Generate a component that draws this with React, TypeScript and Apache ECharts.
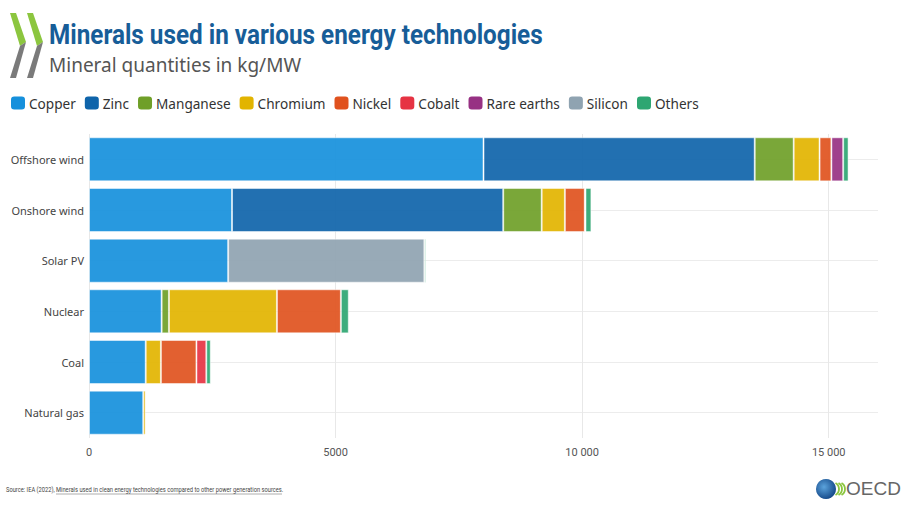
import React, { useEffect, useRef } from "react";
import * as echarts from "echarts";

const categories = ["Offshore wind", "Onshore wind", "Solar PV", "Nuclear", "Coal", "Natural gas"];
const seriesNames = ["Copper", "Zinc", "Manganese", "Chromium", "Nickel", "Cobalt", "Rare earths", "Silicon", "Others"];
const copper = [8000, 2900, 2822, 1473, 1150, 1100];
const zinc = [5500, 5500, 0, 0, 0, 0];
const manganese = [790, 780, 0, 148, 0, 0];
const chromium = [525, 470, 0, 2190, 308, 48];
const nickel = [240, 404, 0, 1297, 721, 0];
const cobalt = [0, 0, 0, 0, 200, 0];
const rareEarths = [239, 14, 0, 0, 0, 0];
const silicon = [0, 0, 3979, 0, 0, 0];
const others = [109, 120, 30, 160, 90, 0];
const xTicks = [0, 5000, 10000, 15000];
const xMax = 16000;

const seriesValues = [copper, zinc, manganese, chromium, nickel, cobalt, rareEarths, silicon, others];
const colors = ["#1690dc", "#0f64aa", "#6f9f28", "#e2b400", "#e0521e", "#e63343", "#973183", "#8fa3b1", "#2ea672"];

export default function App() {
  const ref = useRef<HTMLDivElement>(null);
  useEffect(() => {
    if (!ref.current) return;
    const chart = echarts.init(ref.current, undefined, { renderer: "svg" });
    const fmt = (v: number) => (v >= 10000 ? String(v).replace(/(\d+)(\d{3})$/, "$1 $2") : String(v));
    chart.setOption({
      animation: false,
      color: colors,
      grid: { left: 89, right: 29, top: 134, bottom: 73, containLabel: false },
      legend: {
        left: 11,
        top: 96,
        padding: 0,
        icon: "roundRect",
        itemWidth: 14,
        itemHeight: 13,
        itemGap: 9,
        itemStyle: { opacity: 1, borderWidth: 0 },
        textStyle: { fontSize: 13.6, color: "#333", fontFamily: "Noto Sans", padding: [0, 0, 0, -1] },
        data: seriesNames,
        selectedMode: false,
      },
      xAxis: {
        type: "value",
        min: 0,
        max: xMax,
        interval: xTicks[1] - xTicks[0],
        axisLine: { show: false },
        axisTick: { show: false },
        axisLabel: {
          showMaxLabel: false,
          formatter: fmt,
          fontSize: 11,
          color: "#555",
          fontFamily: "Roboto",
          margin: 9,
        },
        splitLine: { show: true, showMaxLine: false, lineStyle: { color: "#e8e8e8", width: 1 } },
      },
      yAxis: {
        type: "category",
        inverse: true,
        data: categories,
        axisLine: { show: false },
        axisTick: { show: false },
        axisLabel: { fontSize: 11, color: "#444", fontFamily: "Noto Sans", margin: 5 },
        splitLine: { show: true, alignWithLabel: true, lineStyle: { color: "#ececec", width: 1 } },
      },
      series: seriesNames.map((name, i) => ({
        name,
        type: "bar",
        stack: "total",
        barCategoryGap: "13%",
        data: seriesValues[i].map((v) => (v === 0 ? null : v)),
        itemStyle: { opacity: 0.92, borderColor: "rgba(255,255,255,0.55)", borderWidth: 1 },
        emphasis: { disabled: true },
      })),
      graphic: [
        // OECD chevrons (top-left)
        { type: "polygon", shape: { points: [[10, 13], [16, 13], [26, 42], [20, 46]] }, style: { fill: "#8cc63f" } },
        { type: "polygon", shape: { points: [[20, 46], [26, 42], [16, 78], [10, 78]] }, style: { fill: "#7a7a7a" } },
        { type: "polygon", shape: { points: [[27, 13], [33, 13], [43, 42], [37, 46]] }, style: { fill: "#8cc63f" } },
        { type: "polygon", shape: { points: [[37, 46], [43, 42], [33, 78], [27, 78]] }, style: { fill: "#7a7a7a" } },
        {
          type: "text",
          x: 49,
          y: 21,
          scaleX: 0.9,
          style: {
            text: "Minerals used in various energy technologies",
            fontSize: 27,
            fontWeight: "bold",
            fontFamily: "Roboto",
            fill: "#175d98",
          },
        },
        {
          type: "text",
          x: 49,
          y: 55,
          style: { text: "Mineral quantities in kg/MW", fontSize: 19, fontFamily: "Noto Sans", fill: "#555" },
        },
        {
          type: "text",
          x: 6,
          y: 486,
          scaleX: 0.767,
          style: {
            text: "Source: IEA (2022), Minerals used in clean energy technologies compared to other power generation sources.",
            fontSize: 7.5,
            fontFamily: "Roboto",
            fill: "#444",
          },
        },
        { type: "line", shape: { x1: 56, y1: 494, x2: 282, y2: 494 }, style: { stroke: "#777", lineWidth: 0.6 } },
        // OECD bottom logo
        {
          type: "circle",
          shape: { cx: 826, cy: 489, r: 10 },
          style: {
            fill: new echarts.graphic.RadialGradient(0.4, 0.4, 0.7, [
              { offset: 0, color: "#5ba3dc" },
              { offset: 1, color: "#0d3f80" },
            ]),
          },
        },
        { type: "arc", shape: { cx: 832, cy: 489, r: 7, startAngle: -Math.PI / 3, endAngle: Math.PI / 3 }, style: { stroke: "#8cc63f", lineWidth: 1.8, fill: "none" } },
        { type: "arc", shape: { cx: 835, cy: 489, r: 7, startAngle: -Math.PI / 3, endAngle: Math.PI / 3 }, style: { stroke: "#8cc63f", lineWidth: 1.8, fill: "none" } },
        { type: "arc", shape: { cx: 838, cy: 489, r: 7, startAngle: -Math.PI / 3, endAngle: Math.PI / 3 }, style: { stroke: "#8cc63f", lineWidth: 1.8, fill: "none" } },
        {
          type: "text",
          x: 846,
          y: 479,
          style: { text: "OECD", fontSize: 19, fontFamily: "Liberation Sans", fill: "#666" },
        },
      ],
    });
    return () => chart.dispose();
  }, []);
  return <div ref={ref} style={{ width: 907, height: 511, position: "absolute", left: 0, top: 0 }} />;
}
